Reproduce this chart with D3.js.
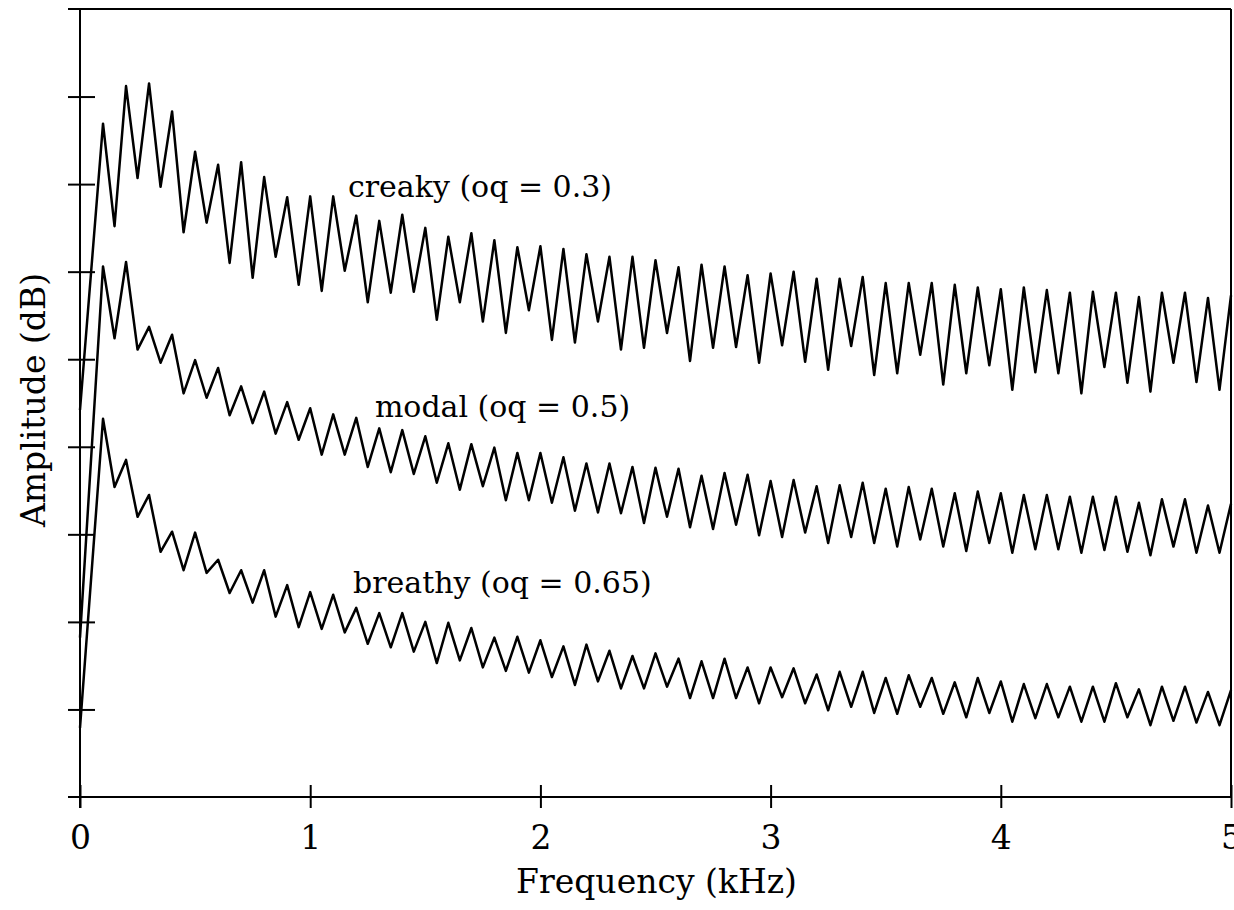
<!DOCTYPE html>
<html>
<head>
<meta charset="utf-8">
<script src="https://cdn.jsdelivr.net/npm/d3@7"></script>
<style>
  body { margin: 0; background: #fff; }
  svg { display: block; }
  text { font-family: "DejaVu Serif", serif; fill: #000; }
</style>
</head>
<body>
<svg id="chart"></svg>
<script>
// harmonic number of each peak (F0 = 100 Hz)
var harmonics = d3.range(1, 51);
var f0 = 0.1; // kHz

// level at 0 Hz for each curve (dB)
var creakyStart = 44.2;
var modalStart = 18.2;
var breathyStart = 7.9;

// harmonic peaks (dB), harmonic 1..50
var creakyPeaks = [76.9, 81.2, 81.5, 78.3, 73.7, 72.2, 72.5, 70.8, 68.5, 68.6,
  68.6, 66.4, 65.8, 66.5, 65.0, 64.0, 64.4, 63.6, 62.8, 62.9,
  62.6, 62.0, 61.7, 61.7, 61.3, 60.5, 60.8, 60.6, 59.6, 59.8,
  60.0, 59.2, 59.2, 59.4, 58.7, 58.7, 58.7, 58.5, 58.2, 58.0,
  58.2, 57.9, 57.6, 57.7, 57.6, 57.1, 57.6, 57.6, 57.0, 57.3];
// valleys between harmonic k and k+1 (dB)
var creakyTroughs = [65.2, 70.7, 69.7, 64.5, 65.6, 61.0, 59.3, 61.7, 58.5, 57.8,
  60.1, 56.5, 57.6, 57.7, 54.5, 56.5, 54.3, 53.0, 55.6, 52.2,
  51.9, 54.3, 51.1, 51.3, 53.0, 49.8, 51.3, 51.4, 49.6, 51.6,
  49.7, 48.8, 51.5, 48.2, 48.4, 50.5, 47.1, 48.4, 49.3, 46.5,
  48.5, 48.4, 46.1, 49.1, 47.3, 46.3, 49.6, 47.4, 46.5];

var modalPeaks = [60.6, 61.1, 53.7, 52.8, 49.9, 49.0, 46.9, 46.3, 45.1, 44.4,
  43.7, 43.3, 42.1, 41.9, 41.2, 40.4, 40.3, 39.9, 39.3, 39.3,
  38.8, 38.1, 38.1, 37.7, 37.6, 37.5, 36.7, 37.0, 36.8, 36.1,
  36.2, 35.5, 35.6, 35.9, 35.2, 35.4, 35.2, 34.7, 34.9, 34.7,
  34.5, 34.5, 34.3, 34.3, 34.3, 33.6, 34.0, 34.0, 33.3, 33.5];
var modalTroughs = [52.4, 51.1, 49.6, 46.1, 45.6, 43.6, 42.7, 41.5, 40.8, 39.1,
  39.1, 37.7, 37.1, 36.9, 35.9, 35.1, 35.5, 33.9, 33.9, 33.6,
  32.7, 32.5, 32.4, 31.3, 32.0, 30.8, 30.6, 31.1, 29.9, 29.7,
  30.2, 29.0, 29.7, 29.0, 28.6, 29.4, 28.6, 28.1, 29.0, 27.9,
  28.3, 28.3, 27.9, 28.2, 28.0, 27.6, 28.6, 27.9, 27.9];

var breathyPeaks = [43.2, 38.5, 34.5, 30.3, 30.2, 27.1, 25.9, 25.9, 24.2, 23.4,
  23.1, 21.6, 21.0, 21.0, 20.0, 19.9, 19.3, 18.2, 18.3, 17.9,
  17.2, 17.4, 16.7, 16.1, 16.4, 15.8, 15.5, 15.8, 14.8, 14.8,
  14.7, 14.0, 14.3, 14.3, 13.6, 13.9, 13.6, 13.1, 13.6, 13.2,
  12.9, 12.9, 12.6, 12.6, 13.0, 12.3, 12.6, 12.6, 12.0, 12.2];
var breathyTroughs = [35.4, 32.0, 28.0, 25.9, 25.6, 23.3, 22.2, 20.6, 19.4, 19.2,
  18.8, 17.5, 17.1, 16.6, 15.3, 15.6, 14.8, 14.4, 14.2, 13.7,
  12.8, 13.2, 12.4, 12.4, 12.6, 11.3, 11.3, 11.3, 10.7, 11.4,
  10.7, 9.9, 10.3, 9.6, 9.5, 10.3, 9.5, 9.1, 9.6, 8.6,
  9.0, 9.1, 8.6, 8.6, 9.1, 8.2, 8.7, 8.5, 8.2];

var seriesNames = ["creaky (oq = 0.3)", "modal (oq = 0.5)", "breathy (oq = 0.65)"];
// label anchor: [kHz, dB]
var labelAt = [[1.164, 68.5], [1.281, 43.4], [1.186, 23.3]];

var xTicks = [0, 1, 2, 3, 4, 5];
var yTicks = [10, 20, 30, 40, 50, 60, 70, 80];

var width = 1234, height = 910;
var margin = {left: 80, right: 3, top: 9, bottom: 113};

var svg = d3.select("#chart").attr("width", width).attr("height", height);

var x = d3.scaleLinear().domain([0, 5]).range([margin.left, width - margin.right]);
var y = d3.scaleLinear().domain([0, 90]).range([height - margin.bottom, margin.top]);

function buildLine(start, peaks, troughs) {
  var pts = [{f: 0, db: start}];
  harmonics.forEach(function(k, i) {
    pts.push({f: k * f0, db: peaks[i]});
    if (i < troughs.length) pts.push({f: (k + 0.5) * f0, db: troughs[i]});
  });
  return pts;
}

var curves = [
  buildLine(creakyStart, creakyPeaks, creakyTroughs),
  buildLine(modalStart, modalPeaks, modalTroughs),
  buildLine(breathyStart, breathyPeaks, breathyTroughs)
];

var line = d3.line()
  .x(function(d) { return x(d.f); })
  .y(function(d) { return y(d.db); });

// frame: top and right edges
svg.append("line")
  .attr("x1", x(0) - 12).attr("x2", x(5))
  .attr("y1", y(90)).attr("y2", y(90))
  .attr("stroke", "#000").attr("stroke-width", 2);
svg.append("line")
  .attr("x1", x(5)).attr("x2", x(5))
  .attr("y1", y(90)).attr("y2", y(0))
  .attr("stroke", "#000").attr("stroke-width", 2);

// bottom axis
var gx = svg.append("g")
  .attr("transform", "translate(0," + y(0) + ")")
  .call(d3.axisBottom(x).tickValues(xTicks).tickFormat(d3.format("d")).tickSizeOuter(0).tickSize(11));
gx.select(".domain").attr("d", "M" + (x(0) - 12) + ",0H" + x(5)).attr("stroke-width", 2);
gx.selectAll(".tick line").attr("y1", -12).attr("y2", 11).attr("stroke-width", 2);
gx.selectAll(".tick text")
  .attr("y", 52)
  .attr("dy", 0)
  .style("font-size", "33px")
  .style("font-family", "DejaVu Serif, serif");

// left axis, no labels
var gy = svg.append("g")
  .attr("transform", "translate(" + x(0) + ",0)")
  .call(d3.axisLeft(y).tickValues(yTicks).tickFormat("").tickSizeOuter(0).tickSize(12));
gy.select(".domain").attr("d", "M0," + y(90) + "V" + (y(0) + 11)).attr("stroke-width", 2);
gy.selectAll(".tick line").attr("x1", -12).attr("x2", 15).attr("stroke-width", 2);

// spectra
svg.selectAll("path.spectrum")
  .data(curves)
  .enter()
  .append("path")
  .classed("spectrum", true)
  .attr("d", line)
  .attr("fill", "none")
  .attr("stroke", "#000")
  .attr("stroke-width", 2.5)
  .attr("stroke-linejoin", "round");

// curve labels
svg.selectAll("text.lbl")
  .data(seriesNames)
  .enter()
  .append("text")
  .classed("lbl", true)
  .attr("x", function(d, i) { return x(labelAt[i][0]); })
  .attr("y", function(d, i) { return y(labelAt[i][1]); })
  .style("font-size", "30px")
  .text(function(d) { return d; });

// axis titles
svg.append("text")
  .attr("x", (x(0) + x(5)) / 2 + 1)
  .attr("y", 893)
  .attr("text-anchor", "middle")
  .style("font-size", "33px")
  .text("Frequency (kHz)");

svg.append("text")
  .attr("transform", "translate(45," + 400 + ") rotate(-90)")
  .attr("text-anchor", "middle")
  .style("font-size", "33px")
  .text("Amplitude (dB)");
</script>
</body>
</html>
